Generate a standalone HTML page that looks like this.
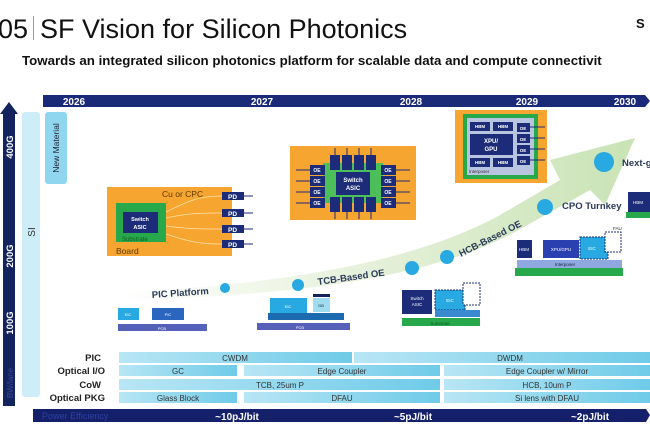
<!DOCTYPE html>
<html><head><meta charset="utf-8"><style>
html,body{margin:0;padding:0;background:#fff;}
svg{display:block;font-family:"Liberation Sans",sans-serif;}
</style></head><body>
<svg width="650" height="433" viewBox="0 0 650 433" xmlns="http://www.w3.org/2000/svg">
<defs>
<linearGradient id="gArrow" x1="0" y1="0" x2="1" y2="0">
<stop offset="0" stop-color="#ffffff"/><stop offset="0.5" stop-color="#e4f0d8"/><stop offset="1" stop-color="#c9e3b5"/>
</linearGradient>
<linearGradient id="cell" x1="0" y1="0" x2="1" y2="0">
<stop offset="0" stop-color="#b8e6f5"/><stop offset="1" stop-color="#6fcbe8"/>
</linearGradient>
</defs>

<!-- title -->
<text x="-2" y="38" font-size="27" fill="#111">05</text>
<rect x="33" y="16" width="1" height="24" fill="#999"/>
<text x="40" y="38" font-size="27" fill="#111">SF Vision for Silicon Photonics</text>
<text x="636" y="28" font-size="13" font-weight="bold" fill="#111">S</text>
<text x="22" y="65" font-size="13.3" font-weight="bold" fill="#111">Towards an integrated silicon photonics platform for scalable data and compute connectivit</text>

<!-- year bar -->
<polygon points="43,95 645,95 650,101 645,107 43,107" fill="#1b2a78"/>
<g font-size="10" font-weight="bold" fill="#fff" text-anchor="middle">
<text x="74" y="105">2026</text><text x="262" y="105">2027</text><text x="411" y="105">2028</text><text x="527" y="105">2029</text><text x="625" y="105">2030</text>
</g>

<!-- vertical arrow -->
<polygon points="3,114 0,114 9,102 18,114 15,114 15,406 3,406" fill="#13235e"/>
<g font-size="9.5" font-weight="bold" fill="#fff" text-anchor="middle">
<text transform="translate(13,147) rotate(-90)">400G</text>
<text transform="translate(13,256) rotate(-90)">200G</text>
<text transform="translate(13,323) rotate(-90)">100G</text>
<text transform="translate(13,383) rotate(-90)" fill="#3a4a9a" font-weight="normal" font-size="8">BW/lane</text>
</g>
<rect x="22" y="112" width="18" height="285" rx="3" fill="#cdeef8"/>
<text transform="translate(35,232) rotate(-90)" font-size="10" fill="#333" text-anchor="middle">SI</text>
<rect x="45" y="112" width="22" height="72" rx="3" fill="#8fd6ee"/>
<text transform="translate(59,148) rotate(-90)" font-size="8.5" fill="#223" text-anchor="middle">New Material</text>

<!-- green curved arrow -->
<path d="M120,293 C250,285 400,270 500,215 L560,180 L550,160 L635,138 L605,205 L590,190 L515,232 C420,282 280,296 120,300 Z" fill="url(#gArrow)"/>

<!-- circles -->
<g fill="#29a9e1">
<circle cx="225" cy="288" r="5"/><circle cx="298" cy="285" r="6"/>
<circle cx="412" cy="268" r="7"/><circle cx="447" cy="257" r="7"/>
<circle cx="545" cy="207" r="8"/><circle cx="604" cy="162" r="10"/>
</g>
<g font-size="9.5" font-weight="bold" fill="#2a3a5a">
<text transform="translate(152,298) rotate(-4)">PIC Platform</text>
<text transform="translate(318,285) rotate(-8)">TCB-Based OE</text>
<text transform="translate(461,257) rotate(-27)">HCB-Based OE</text>
<text x="562" y="209">CPO Turnkey</text>
<text x="622" y="166">Next-g</text>
</g>

<!-- Board -->
<rect x="107" y="187" width="125" height="69" fill="#f7a531"/>
<text x="162" y="197" font-size="8.5" fill="#5a3a00">Cu or CPC</text>
<text x="116" y="254" font-size="8.5" fill="#5a3a00">Board</text>
<rect x="116" y="203" width="50" height="39" fill="#27a84a"/>
<rect x="123" y="212" width="35" height="21" fill="#1c2c78"/>
<text x="140" y="221" font-size="5.5" font-weight="bold" fill="#fff" text-anchor="middle">Switch</text>
<text x="140" y="229" font-size="5.5" font-weight="bold" fill="#fff" text-anchor="middle">ASIC</text>
<text x="122" y="241" font-size="6" fill="#135a25">Substrate</text>
<g stroke="#ffe4a8" fill="none" stroke-width="0.8">
<path d="M166,212 C190,200 200,196 222,196"/><path d="M166,218 C190,213 200,213 222,213"/>
<path d="M166,226 C190,229 200,229 222,229"/><path d="M166,234 C190,242 200,244 222,244"/>
</g>
<g fill="#1c2c78">
<rect x="222" y="192" width="22" height="8"/><rect x="222" y="209" width="22" height="8"/>
<rect x="222" y="225" width="22" height="8"/><rect x="222" y="240" width="22" height="8"/>
</g>
<g font-size="6.5" font-weight="bold" fill="#fff"><text x="228" y="199">PD</text><text x="228" y="216">PD</text><text x="228" y="232">PD</text><text x="228" y="247">PD</text></g>
<g stroke="#1c2c78" stroke-width="1"><line x1="244" y1="196" x2="253" y2="196"/><line x1="244" y1="213" x2="253" y2="213"/><line x1="244" y1="229" x2="253" y2="229"/><line x1="244" y1="244" x2="253" y2="244"/></g>

<!-- center switch chip -->
<rect x="290" y="146" width="126" height="74" fill="#f7a531"/>
<rect x="323" y="163" width="60" height="40" fill="#4cbf5a"/>
<g stroke="#1c2c78" stroke-width="1">
<line x1="296" y1="170" x2="310" y2="170"/><line x1="296" y1="181" x2="310" y2="181"/><line x1="296" y1="192" x2="310" y2="192"/><line x1="296" y1="203" x2="310" y2="203"/>
<line x1="396" y1="170" x2="410" y2="170"/><line x1="396" y1="181" x2="410" y2="181"/><line x1="396" y1="192" x2="410" y2="192"/><line x1="396" y1="203" x2="410" y2="203"/>
<line x1="335" y1="148" x2="335" y2="156"/><line x1="347" y1="148" x2="347" y2="156"/><line x1="359" y1="148" x2="359" y2="156"/><line x1="371" y1="148" x2="371" y2="156"/>
<line x1="335" y1="211" x2="335" y2="219"/><line x1="347" y1="211" x2="347" y2="219"/><line x1="359" y1="211" x2="359" y2="219"/><line x1="371" y1="211" x2="371" y2="219"/>
</g>
<g fill="#1c2c78">
<rect x="330" y="155" width="10" height="15"/><rect x="342" y="155" width="10" height="15"/><rect x="354" y="155" width="10" height="15"/><rect x="366" y="155" width="10" height="15"/>
<rect x="330" y="197" width="10" height="15"/><rect x="342" y="197" width="10" height="15"/><rect x="354" y="197" width="10" height="15"/><rect x="366" y="197" width="10" height="15"/>
<rect x="310" y="165" width="15" height="10"/><rect x="310" y="176" width="15" height="10"/><rect x="310" y="187" width="15" height="10"/><rect x="310" y="198" width="15" height="10"/>
<rect x="381" y="165" width="15" height="10"/><rect x="381" y="176" width="15" height="10"/><rect x="381" y="187" width="15" height="10"/><rect x="381" y="198" width="15" height="10"/>
<rect x="336" y="172" width="34" height="23"/>
</g>
<g font-size="5" font-weight="bold" fill="#fff" text-anchor="middle">
<text x="317" y="172">OE</text><text x="317" y="183">OE</text><text x="317" y="194">OE</text><text x="317" y="205">OE</text>
<text x="388" y="172">OE</text><text x="388" y="183">OE</text><text x="388" y="194">OE</text><text x="388" y="205">OE</text>
<text x="353" y="182" font-size="6">Switch</text><text x="353" y="190" font-size="6">ASIC</text>
</g>

<!-- top right XPU chip -->
<rect x="455" y="110" width="92" height="73" fill="#f7a531"/>
<rect x="463" y="114" width="75" height="65" fill="#27a84a"/>
<rect x="467" y="118" width="67" height="57" fill="#b8c4e0"/>
<g fill="#1c2c78">
<rect x="470" y="122" width="20" height="9"/><rect x="493" y="122" width="20" height="9"/>
<rect x="470" y="158" width="20" height="9"/><rect x="493" y="158" width="20" height="9"/>
<rect x="470" y="134" width="43" height="21"/>
<rect x="517" y="123" width="13" height="9"/><rect x="517" y="134" width="13" height="9"/><rect x="517" y="145" width="13" height="9"/><rect x="517" y="156" width="13" height="9"/>
</g>
<g stroke="#1c2c78"><line x1="530" y1="127" x2="545" y2="127"/><line x1="530" y1="138" x2="545" y2="138"/><line x1="530" y1="149" x2="545" y2="149"/><line x1="530" y1="160" x2="545" y2="160"/></g>
<g font-size="4.5" font-weight="bold" fill="#fff" text-anchor="middle">
<text x="480" y="128">HBM</text><text x="503" y="128">HBM</text><text x="480" y="164">HBM</text><text x="503" y="164">HBM</text>
<text x="491" y="143" font-size="6">XPU/</text><text x="491" y="151" font-size="6">GPU</text>
<text x="523" y="130">OE</text><text x="523" y="141">OE</text><text x="523" y="152">OE</text><text x="523" y="163">OE</text>
</g>
<text x="469" y="173" font-size="4.5" fill="#333">Interposer</text>

<!-- PIC platform stack -->
<rect x="118" y="308" width="21" height="12" fill="#29a9e1"/><rect x="152" y="308" width="32" height="12" fill="#2a66c0"/>
<rect x="118" y="324" width="89" height="7" fill="#5560b8"/>
<g font-size="4" fill="#fff" text-anchor="middle"><text x="128" y="316">EIC</text><text x="168" y="316">PIC</text><text x="162" y="330">PCB</text></g>
<!-- TCB stack -->
<rect x="270" y="298" width="37" height="16" fill="#29a9e1"/>
<rect x="313" y="294" width="17" height="3" fill="#13235e"/>
<rect x="313" y="298" width="17" height="14" fill="#9fdcef"/>
<rect x="268" y="313" width="76" height="7" fill="#1c6ab0"/>
<rect x="257" y="323" width="93" height="7" fill="#5560b8"/>
<g font-size="4" fill="#fff" text-anchor="middle"><text x="288" y="308">EIC</text><text x="321" y="307" fill="#123">GB</text><text x="300" y="329">PCB</text></g>

<!-- switch ASIC HCB stack -->
<rect x="402" y="290" width="30" height="24" fill="#1c2c78"/>
<rect x="435" y="290" width="30" height="20" fill="#29a9e1" stroke="#1c2c78" stroke-dasharray="2,1"/>
<rect x="463" y="283" width="17" height="22" fill="#fff" stroke="#1c2c78" stroke-dasharray="2,1"/>
<rect x="435" y="310" width="45" height="7" fill="#3a8ad0"/>
<rect x="402" y="318" width="78" height="8" fill="#27a84a"/>
<g font-size="4.5" fill="#fff" text-anchor="middle"><text x="417" y="300">Switch</text><text x="417" y="306">ASIC</text><text x="450" y="302">EIC</text><text x="440" y="325" fill="#135a25">Substrate</text></g>

<!-- XPU CPO stack -->
<rect x="517" y="240" width="15" height="18" fill="#1c2c78"/>
<rect x="543" y="240" width="36" height="18" fill="#2a40b0"/>
<rect x="580" y="237" width="28" height="22" fill="#29a9e1" stroke="#1c2c78" stroke-dasharray="2,1"/>
<rect x="605" y="232" width="16" height="20" fill="#fff" stroke="#1c2c78" stroke-dasharray="2,1"/>
<rect x="517" y="260" width="105" height="8" fill="#8fa8e0"/>
<rect x="515" y="268" width="108" height="8" fill="#27a84a"/>
<g font-size="4.5" fill="#fff" text-anchor="middle"><text x="524" y="251">HBM</text><text x="561" y="251">XPU/GPU</text><text x="592" y="250">EIC</text><text x="565" y="266" fill="#123">Interposer</text></g>
<text x="613" y="230" font-size="4.5" fill="#123">FAU</text>
<!-- far right -->
<rect x="628" y="192" width="22" height="20" fill="#1c2c78"/>
<rect x="626" y="212" width="24" height="6" fill="#27a84a"/>
<text x="638" y="204" font-size="4.5" fill="#fff" text-anchor="middle">HBM</text>

<!-- table -->
<g font-size="9.5" font-weight="bold" fill="#222" text-anchor="end">
<text x="101" y="361">PIC</text><text x="105" y="374">Optical I/O</text><text x="101" y="388">CoW</text><text x="105" y="401">Optical PKG</text>
</g>
<g fill="url(#cell)">
<rect x="119" y="352" width="233" height="11"/><rect x="354" y="352" width="296" height="11"/>
<rect x="119" y="365" width="118" height="11"/><rect x="244" y="365" width="196" height="11"/><rect x="444" y="365" width="206" height="11"/>
<rect x="119" y="379" width="321" height="11"/><rect x="444" y="379" width="206" height="11"/>
<rect x="119" y="392" width="118" height="11"/><rect x="244" y="392" width="196" height="11"/><rect x="444" y="392" width="206" height="11"/>
</g>
<g font-size="8" fill="#333" text-anchor="middle">
<text x="235" y="361">CWDM</text><text x="510" y="361">DWDM</text>
<text x="178" y="374">GC</text><text x="342" y="374">Edge Coupler</text><text x="547" y="374">Edge Coupler w/ Mirror</text>
<text x="280" y="388">TCB, 25um P</text><text x="547" y="388">HCB, 10um P</text>
<text x="178" y="401">Glass Block</text><text x="342" y="401">DFAU</text><text x="547" y="401">Si lens with DFAU</text>
</g>

<!-- power bar -->
<polygon points="33,409 646,409 650,415 646,422 33,422" fill="#14206a"/>
<text x="42" y="419" font-size="9" fill="#3040a0">Power Efficiency</text>
<g font-size="10" font-weight="bold" fill="#fff" text-anchor="middle">
<text x="237" y="420">~10pJ/bit</text><text x="413" y="420">~5pJ/bit</text><text x="590" y="420">~2pJ/bit</text>
</g>
</svg>
</body></html>
